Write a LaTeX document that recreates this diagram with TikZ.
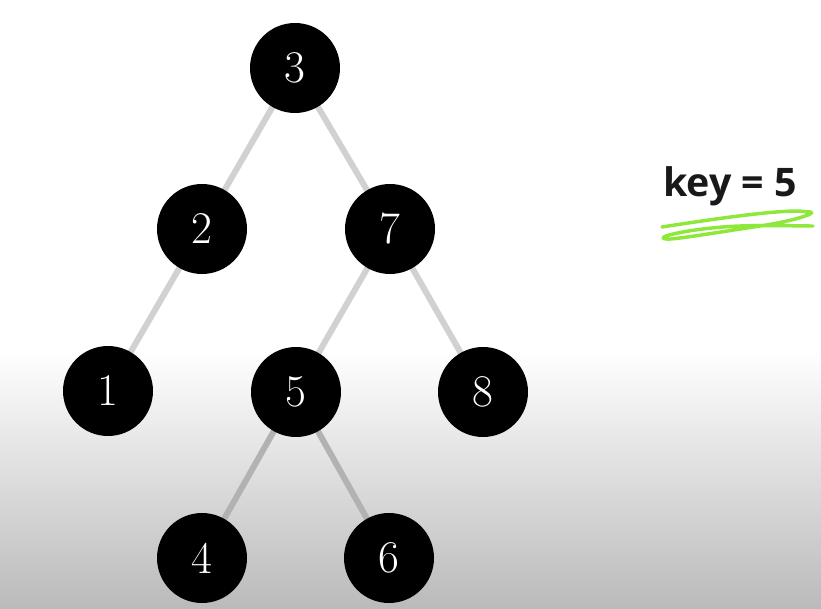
\documentclass[tikz,border=0pt]{standalone}
\usepackage{fontspec}
\newfontfamily\keyfont{Open Sans}
\pgfdeclarelayer{bg}
\pgfdeclarelayer{edgelayer}
\pgfsetlayers{bg,edgelayer,main}
\definecolor{scrib}{HTML}{8EE83A}
\begin{document}
\begin{tikzpicture}[x=0.75pt,y=-0.75pt,
  treenode/.style={circle,fill=black,minimum size=67.5pt,inner sep=0pt,
    text=white,font=\fontsize{34}{40}\selectfont},
  edge/.style={line width=4.5pt,draw=black!18},
  lowedge/.style={line width=4.5pt,draw=black!30},
  scribble/.style={draw=scrib,line width=2.6pt,line cap=round,line join=round}]
\useasboundingbox (0,0) rectangle (821,609);
\begin{pgfonlayer}{bg}
\fill[white] (0,0) rectangle (821,609);
\shade[top color=white,bottom color=black!27] (0,350) rectangle (821,609);
\end{pgfonlayer}
\node[treenode] (n3) at (295,68) {3};
\node[treenode] (n2) at (202,229) {2};
\node[treenode] (n7) at (390,229) {7};
\node[treenode] (n1) at (108,391) {1};
\node[treenode] (n5) at (296,392) {5};
\node[treenode] (n8) at (483,392) {8};
\node[treenode] (n4) at (202,558) {4};
\node[treenode] (n6) at (389,558) {6};
\begin{pgfonlayer}{edgelayer}
\foreach \a/\b in {n3/n2,n3/n7,n2/n1,n7/n5,n7/n8}
  \draw[edge] (\a.center) -- (\b.center);
\foreach \a/\b in {n5/n4,n5/n6}
  \draw[lowedge] (\a.center) -- (\b.center);
\end{pgfonlayer}
\node[font=\keyfont\bfseries\fontsize{29.5}{34}\selectfont,text=black!90] (key) at (730,186) {key = 5};
\coordinate (s0) at (662,227);
\coordinate (s1) at (807,212);
\coordinate (s2) at (667,239);
\coordinate (s3) at (813,226);
\draw[scribble]
  (s0) .. controls (720,218) and (790,208) .. (s1)
  .. controls (822,211) and (800,220) .. (760,226)
  .. controls (720,232) and (672,240) .. (s2)
  .. controls (650,238) and (690,228) .. (740,226)
  .. controls (770,225) and (795,226) .. (s3);
\end{tikzpicture}
\end{document}
